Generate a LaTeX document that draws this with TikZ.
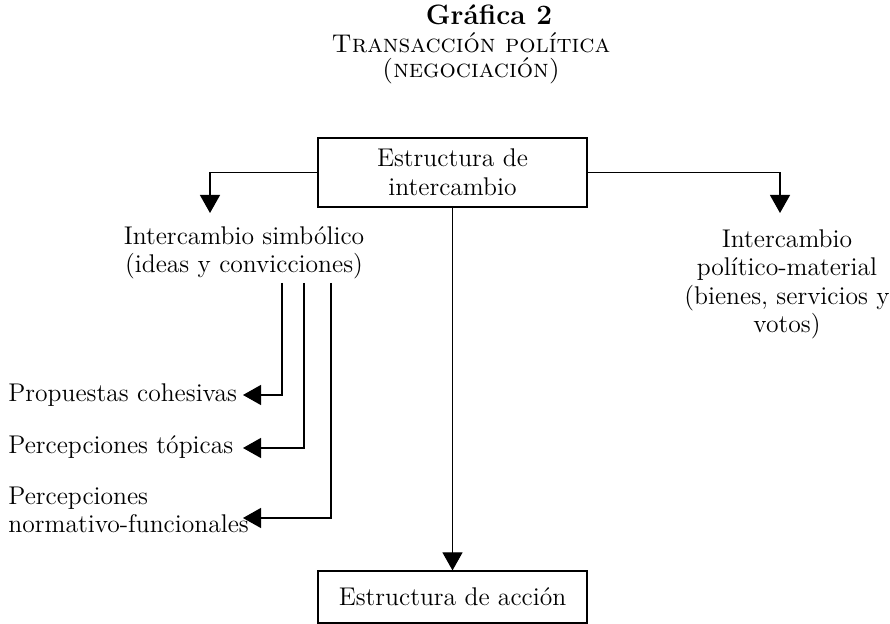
\documentclass[tikz,border=0pt]{standalone}
\usetikzlibrary{arrows.meta}
\begin{document}
\begin{tikzpicture}[x=0.5pt,y=-0.5pt,
  txt/.style={font=\fontsize{12.8}{14.25}\selectfont, inner sep=0pt, align=center},
  box/.style={draw, line width=0.6pt, minimum width=134.5pt, inner sep=0pt},
  conn/.style={line width=0.6pt},
  arr/.style={conn, -{Triangle[width=10pt,length=9pt]}}]
\useasboundingbox (0,0) rectangle (890,624);
% title
\node[txt, font=\fontsize{14}{16}\selectfont\bfseries, anchor=base] (t1) at (489,25) {Gráfica 2};
\node[txt, font=\fontsize{12.8}{14}\selectfont\scshape, anchor=base] (t2) at (471,53) {Transacción política};
\node[txt, font=\fontsize{12.8}{14}\selectfont\scshape, anchor=base] (t3) at (471,78) {(negociación)};
% boxes
\node[box, txt, minimum height=34.5pt] (top) at (452.5,172.5) {Estructura de\\intercambio};
\node[box, txt, minimum height=26pt] (bot) at (452.5,597) {Estructura de acción};
% branch texts (base anchor = baseline of last line)
\node[txt, anchor=base] (simb) at (244,273) {Intercambio simbólico\\(ideas y convicciones)};
\node[txt, anchor=base] (mat) at (787,333) {Intercambio\\político-material\\(bienes, servicios y\\votos)};
\node[txt, anchor=base west] (prop) at (8,402) {Propuestas cohesivas};
\node[txt, anchor=base west] (topi) at (8,454) {Percepciones tópicas};
\node[txt, anchor=base west, align=left] (norm) at (8,533) {Percepciones\\normativo-funcionales};
% connectors
\coordinate (la) at (210,213);
\coordinate (ra) at (780,213);
\draw[arr] (top.west) -| (la);
\draw[arr] (top.east) -| (ra);
\draw[arr] (top.south) -- (bot.north);
\coordinate (s1) at (282,283);
\coordinate (s2) at (304,283);
\coordinate (s3) at (331,283);
\coordinate (p1) at (243,395);
\coordinate (p2) at (243,448);
\coordinate (p3) at (243,518);
\draw[arr] (s1) |- (p1);
\draw[arr] (s2) |- (p2);
\draw[arr] (s3) |- (p3);
\end{tikzpicture}
\end{document}
